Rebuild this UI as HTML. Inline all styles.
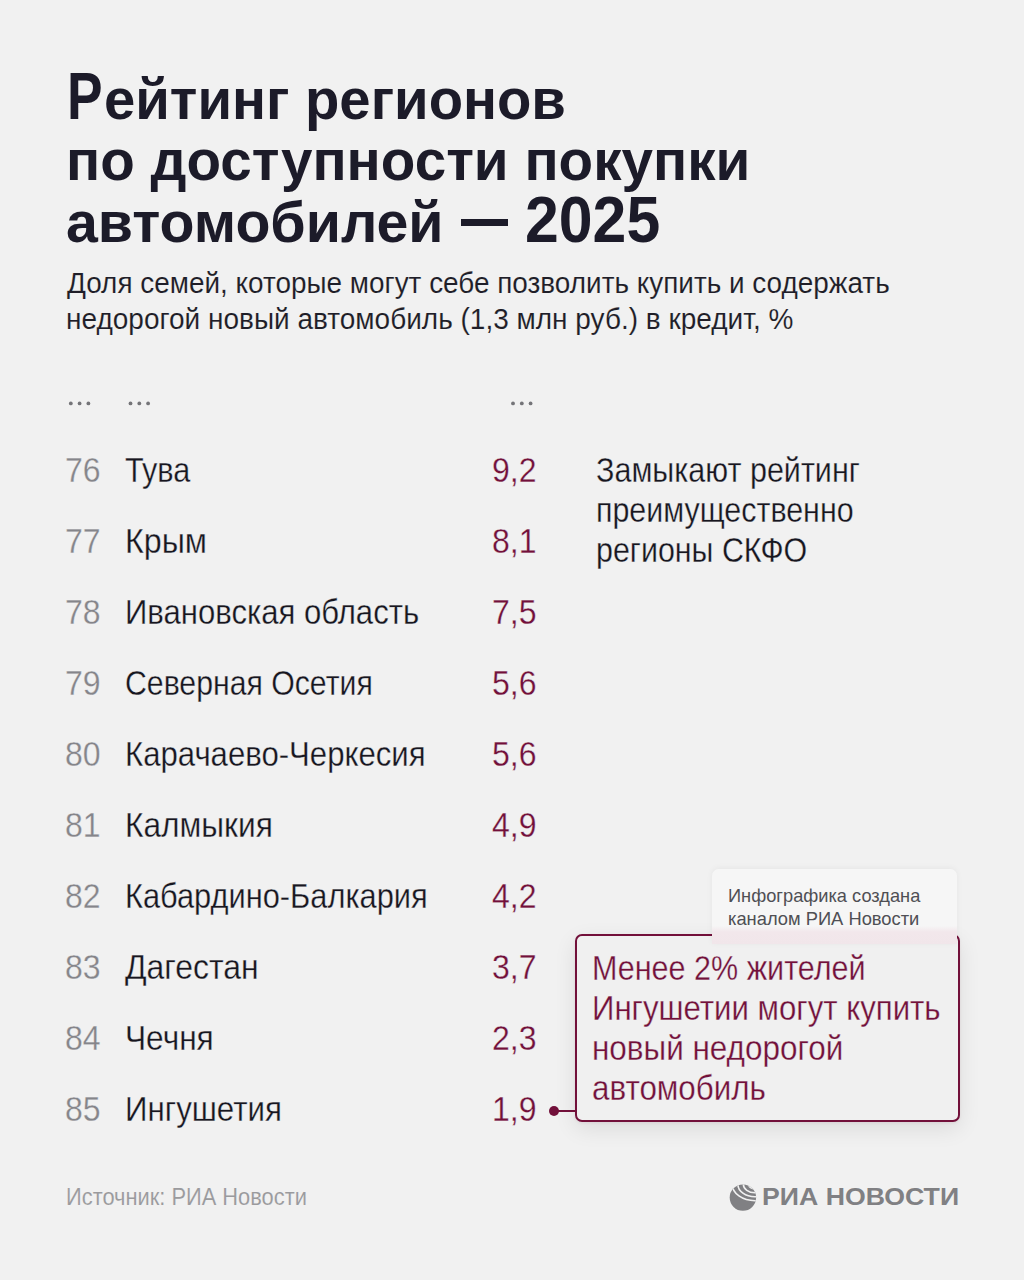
<!DOCTYPE html>
<html lang="ru"><head><meta charset="utf-8"><title>Рейтинг регионов по доступности покупки автомобилей — 2025</title>
<style>
html,body{margin:0;padding:0;}
body{width:1024px;height:1280px;overflow:hidden;background:#f1f1f1;position:relative;font-family:"Liberation Sans",sans-serif;}
.t{position:absolute;white-space:nowrap;transform-origin:0 0;}
.th{-webkit-text-stroke:0.3px #f1f1f1;}
.ths{-webkit-text-stroke:0.1px #f1f1f1;}
.thc{}
.abs{position:absolute;}
#box{position:absolute;left:574.5px;top:934px;width:381.5px;height:183.5px;border:2px solid #72103a;border-radius:7px;background:#f0f0f0;box-shadow:0 7px 22px rgba(0,0,0,0.09),0 1px 3px rgba(120,20,60,0.08);}
#card{position:absolute;left:712px;top:869px;width:245px;height:75px;border-radius:7px 7px 0 0;background:linear-gradient(to bottom,#f6f6f6 0%,#f6f6f6 76%,#f2e7eb 84%,#f1e6ea 100%);box-shadow:0 -1px 6px rgba(0,0,0,0.05);}
#conn{position:absolute;left:553px;top:1110px;width:22px;height:2px;background:#72103a;}
#dash{position:absolute;left:461px;top:219px;width:47px;height:7px;background:#1c1b29;}
#cdot{position:absolute;left:548.7px;top:1105.8px;width:10px;height:10px;border-radius:50%;background:#72103a;}
</style></head><body>
<svg class="abs" style="left:0;top:0" width="1024" height="1280"><circle cx="70.80" cy="403.4" r="1.9" fill="#747478"/><circle cx="79.60" cy="403.4" r="1.9" fill="#747478"/><circle cx="88.40" cy="403.4" r="1.9" fill="#747478"/><circle cx="130.50" cy="403.4" r="1.9" fill="#747478"/><circle cx="139.30" cy="403.4" r="1.9" fill="#747478"/><circle cx="148.10" cy="403.4" r="1.9" fill="#747478"/><circle cx="513.00" cy="403.4" r="1.9" fill="#747478"/><circle cx="521.80" cy="403.4" r="1.9" fill="#747478"/><circle cx="530.60" cy="403.4" r="1.9" fill="#747478"/></svg>
<div id="box"></div>
<div id="card"></div>
<div id="conn"></div>
<div id="cdot"></div>
<div id="dash"></div>
<svg class="abs" style="left:726px;top:1180px" width="36" height="36" viewBox="0 0 36 36">
<defs><clipPath id="gc"><circle cx="16.9" cy="17.6" r="13.2"/></clipPath></defs>
<g clip-path="url(#gc)"><rect x="0" y="0" width="36" height="36" fill="#808083"/>
<g fill="none" stroke="#f1f1f1" stroke-width="1.6"><ellipse cx="29" cy="4.5" rx="6.16" ry="4.4"/><ellipse cx="29" cy="4.5" rx="11.62" ry="8.3"/><ellipse cx="29" cy="4.5" rx="17.08" ry="12.2"/><ellipse cx="29" cy="4.5" rx="22.68" ry="16.2"/></g></g>
</svg>
<div class="t" style="left:66.57px;top:63.33px;font-size:66px;line-height:66px;font-weight:700;color:#1c1b29;transform:scaleX(0.8079)">Р</div>
<div class="t" style="left:103.94px;top:70.53px;font-size:57.5px;line-height:57.5px;font-weight:700;color:#1c1b29;transform:scaleX(0.9782)">ейтинг регионов</div>
<div class="t" style="left:66.40px;top:132.03px;font-size:57.5px;line-height:57.5px;font-weight:700;color:#1c1b29;transform:scaleX(0.9847)">по доступности покупки</div>
<div class="t" style="left:66.40px;top:193.83px;font-size:57.5px;line-height:57.5px;font-weight:700;color:#1c1b29;transform:scaleX(0.9957)">автомобилей</div>
<div class="t" style="left:524.73px;top:187.38px;font-size:65px;line-height:65px;font-weight:700;color:#1c1b29;transform:scaleX(0.9348)">2025</div>
<div class="t ths" style="left:66.80px;top:269.05px;font-size:29px;line-height:29px;font-weight:400;color:#1f1e28;transform:scaleX(0.9622)">Доля семей, которые могут себе позволить купить и содержать</div>
<div class="t ths" style="left:66.00px;top:304.95px;font-size:29px;line-height:29px;font-weight:400;color:#1f1e28;transform:scaleX(0.9652)">недорогой новый автомобиль (1,3 млн руб.) в кредит, %</div>
<div class="t th" style="left:65.20px;top:451.97px;font-size:35px;line-height:35px;font-weight:400;color:#85858a;transform:scaleX(0.9150)">76</div>
<div class="t th" style="left:124.90px;top:451.97px;font-size:35px;line-height:35px;font-weight:400;color:#17161f;transform:scaleX(0.8747)">Тува</div>
<div class="t th" style="left:492.00px;top:451.97px;font-size:35px;line-height:35px;font-weight:400;color:#72103a;transform:scaleX(0.9150)">9,2</div>
<div class="t th" style="left:65.20px;top:523.01px;font-size:35px;line-height:35px;font-weight:400;color:#85858a;transform:scaleX(0.9150)">77</div>
<div class="t th" style="left:124.90px;top:523.01px;font-size:35px;line-height:35px;font-weight:400;color:#17161f;transform:scaleX(0.9207)">Крым</div>
<div class="t th" style="left:492.00px;top:523.01px;font-size:35px;line-height:35px;font-weight:400;color:#72103a;transform:scaleX(0.9150)">8,1</div>
<div class="t th" style="left:65.20px;top:594.05px;font-size:35px;line-height:35px;font-weight:400;color:#85858a;transform:scaleX(0.9150)">78</div>
<div class="t th" style="left:124.90px;top:594.05px;font-size:35px;line-height:35px;font-weight:400;color:#17161f;transform:scaleX(0.8882)">Ивановская область</div>
<div class="t th" style="left:492.00px;top:594.05px;font-size:35px;line-height:35px;font-weight:400;color:#72103a;transform:scaleX(0.9150)">7,5</div>
<div class="t th" style="left:65.20px;top:665.09px;font-size:35px;line-height:35px;font-weight:400;color:#85858a;transform:scaleX(0.9150)">79</div>
<div class="t th" style="left:124.90px;top:665.09px;font-size:35px;line-height:35px;font-weight:400;color:#17161f;transform:scaleX(0.8635)">Северная Осетия</div>
<div class="t th" style="left:492.00px;top:665.09px;font-size:35px;line-height:35px;font-weight:400;color:#72103a;transform:scaleX(0.9150)">5,6</div>
<div class="t th" style="left:65.20px;top:736.13px;font-size:35px;line-height:35px;font-weight:400;color:#85858a;transform:scaleX(0.9150)">80</div>
<div class="t th" style="left:124.90px;top:736.13px;font-size:35px;line-height:35px;font-weight:400;color:#17161f;transform:scaleX(0.8894)">Карачаево-Черкесия</div>
<div class="t th" style="left:492.00px;top:736.13px;font-size:35px;line-height:35px;font-weight:400;color:#72103a;transform:scaleX(0.9150)">5,6</div>
<div class="t th" style="left:65.20px;top:807.17px;font-size:35px;line-height:35px;font-weight:400;color:#85858a;transform:scaleX(0.9150)">81</div>
<div class="t th" style="left:124.90px;top:807.17px;font-size:35px;line-height:35px;font-weight:400;color:#17161f;transform:scaleX(0.9050)">Калмыкия</div>
<div class="t th" style="left:492.00px;top:807.17px;font-size:35px;line-height:35px;font-weight:400;color:#72103a;transform:scaleX(0.9150)">4,9</div>
<div class="t th" style="left:65.20px;top:878.21px;font-size:35px;line-height:35px;font-weight:400;color:#85858a;transform:scaleX(0.9150)">82</div>
<div class="t th" style="left:124.90px;top:878.21px;font-size:35px;line-height:35px;font-weight:400;color:#17161f;transform:scaleX(0.8798)">Кабардино-Балкария</div>
<div class="t th" style="left:492.00px;top:878.21px;font-size:35px;line-height:35px;font-weight:400;color:#72103a;transform:scaleX(0.9150)">4,2</div>
<div class="t th" style="left:65.20px;top:949.25px;font-size:35px;line-height:35px;font-weight:400;color:#85858a;transform:scaleX(0.9150)">83</div>
<div class="t th" style="left:124.90px;top:949.25px;font-size:35px;line-height:35px;font-weight:400;color:#17161f;transform:scaleX(0.9118)">Дагестан</div>
<div class="t th" style="left:492.00px;top:949.25px;font-size:35px;line-height:35px;font-weight:400;color:#72103a;transform:scaleX(0.9150)">3,7</div>
<div class="t th" style="left:65.20px;top:1020.29px;font-size:35px;line-height:35px;font-weight:400;color:#85858a;transform:scaleX(0.9150)">84</div>
<div class="t th" style="left:124.90px;top:1020.29px;font-size:35px;line-height:35px;font-weight:400;color:#17161f;transform:scaleX(0.9042)">Чечня</div>
<div class="t th" style="left:492.00px;top:1020.29px;font-size:35px;line-height:35px;font-weight:400;color:#72103a;transform:scaleX(0.9150)">2,3</div>
<div class="t th" style="left:65.20px;top:1091.33px;font-size:35px;line-height:35px;font-weight:400;color:#85858a;transform:scaleX(0.9150)">85</div>
<div class="t th" style="left:124.90px;top:1091.33px;font-size:35px;line-height:35px;font-weight:400;color:#17161f;transform:scaleX(0.8931)">Ингушетия</div>
<div class="t th" style="left:492.00px;top:1091.33px;font-size:35px;line-height:35px;font-weight:400;color:#72103a;transform:scaleX(0.9150)">1,9</div>
<div class="t th" style="left:595.80px;top:452.07px;font-size:35px;line-height:35px;font-weight:400;color:#17161f;transform:scaleX(0.8715)">Замыкают рейтинг</div>
<div class="t th" style="left:595.80px;top:491.97px;font-size:35px;line-height:35px;font-weight:400;color:#17161f;transform:scaleX(0.8685)">преимущественно</div>
<div class="t th" style="left:595.80px;top:531.87px;font-size:35px;line-height:35px;font-weight:400;color:#17161f;transform:scaleX(0.8686)">регионы СКФО</div>
<div class="t th" style="left:592.20px;top:949.87px;font-size:35px;line-height:35px;font-weight:400;color:#72103a;transform:scaleX(0.8723)">Менее 2% жителей</div>
<div class="t th" style="left:592.20px;top:989.87px;font-size:35px;line-height:35px;font-weight:400;color:#72103a;transform:scaleX(0.8903)">Ингушетии могут купить</div>
<div class="t th" style="left:592.20px;top:1029.87px;font-size:35px;line-height:35px;font-weight:400;color:#72103a;transform:scaleX(0.8982)">новый недорогой</div>
<div class="t th" style="left:592.20px;top:1069.87px;font-size:35px;line-height:35px;font-weight:400;color:#72103a;transform:scaleX(0.8953)">автомобиль</div>
<div class="t thc" style="left:728.00px;top:886.12px;font-size:19px;line-height:19px;font-weight:400;color:#4f4f54;transform:scaleX(0.9600)">Инфографика создана</div>
<div class="t thc" style="left:728.00px;top:908.52px;font-size:19px;line-height:19px;font-weight:400;color:#4f4f54;transform:scaleX(0.9645)">каналом РИА Новости</div>
<div class="t ths" style="left:65.60px;top:1184.68px;font-size:24px;line-height:24px;font-weight:400;color:#9a9a9d;transform:scaleX(0.9103)">Источник: РИА Новости</div>
<div class="t" style="left:762.40px;top:1185.48px;font-size:24px;line-height:24px;font-weight:700;color:#808083;transform:scaleX(1.1114)">РИА НОВОСТИ</div>
</body></html>
